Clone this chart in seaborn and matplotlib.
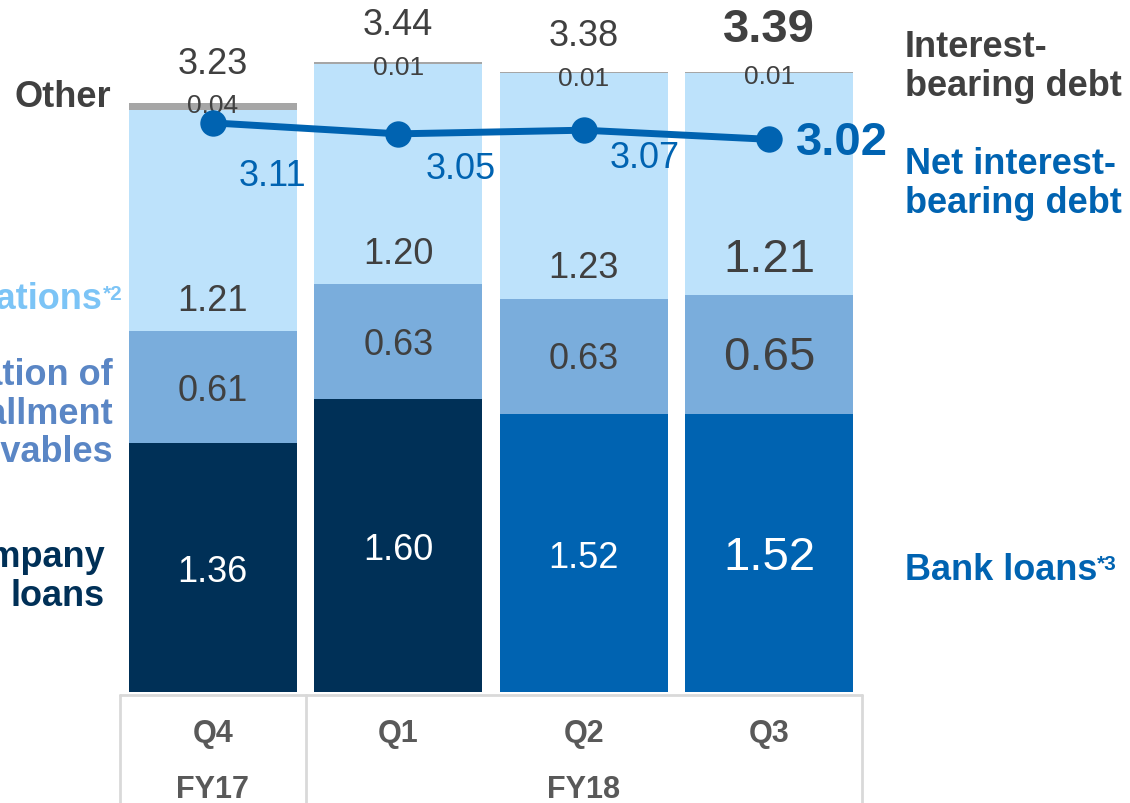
import numpy as np
import pandas as pd
import matplotlib
matplotlib.use("Agg")
import matplotlib.pyplot as plt
import matplotlib.transforms as mtransforms
import seaborn as sns

# ---------------- data ----------------
quarters = ["Q4", "Q1", "Q2", "Q3"]
fiscal_years = ["FY17", "FY18"]
group_loans = [1.36, 1.60, 0.00, 0.00]
bank_loans = [0.00, 0.00, 1.52, 1.52]
liquidation = [0.61, 0.63, 0.63, 0.65]
securitizations = [1.21, 1.20, 1.23, 1.21]
other = [0.04, 0.01, 0.01, 0.01]
totals = [3.23, 3.44, 3.38, 3.39]
net_debt = [3.11, 3.05, 3.07, 3.02]

# ---------------- style ----------------
sns.set_theme(style="white")
plt.rcParams["font.family"] = ["Liberation Sans", "DejaVu Sans"]

C_NAVY = "#003057"
C_BLUE = "#0063B1"
C_MID = "#7AADDC"
C_LIGHT = "#BDE2FB"
C_OTHER = "#A6A6A6"
C_TXT = "#404040"
C_GRID = "#D9D9D9"

W, H = 1130, 804
fig = plt.figure(figsize=(W / 100, H / 100), dpi=100)

# axes: x from px 120 to 862, y from px 693 (value 0) to px 0
ax = fig.add_axes([120 / W, (H - 693) / H, 742 / W, 693 / H])


def fx(x):
    return x / W


def fy(y):
    return 1 - y / H


df = pd.DataFrame({
    "quarter": quarters,
    "group": group_loans,
    "bank": bank_loans,
    "liq": liquidation,
    "sec": securitizations,
    "other": other,
})
base1 = np.array(group_loans) + np.array(bank_loans)
base2 = base1 + np.array(liquidation)
base3 = base2 + np.array(securitizations)

bw = 0.906
common = dict(x="quarter", errorbar=None, width=bw, ax=ax, linewidth=0, saturation=1)
sns.barplot(data=df, y="group", color=C_NAVY, **common)
sns.barplot(data=df, y="bank", color=C_BLUE, **common)
sns.barplot(data=df, y="liq", bottom=base1, color=C_MID, **common)
sns.barplot(data=df, y="sec", bottom=base2, color=C_LIGHT, **common)
sns.barplot(data=df, y="other", bottom=base3, color=C_OTHER, **common)

xpos = np.arange(len(quarters))
sns.lineplot(x=xpos, y=net_debt, color=C_BLUE, linewidth=5, marker="o",
             markersize=19, markeredgewidth=0, ax=ax, zorder=5)

ax.set_xlim(-0.5, 3.5)
ax.set_ylim(0, 693 / 183)
ax.set_axis_off()

# ---------------- value labels ----------------
big = [False, False, False, True]
for i in range(len(quarters)):
    fs = 34 if big[i] else 26
    # bottom segment
    ax.annotate(f"{base1[i]:.2f}", (xpos[i], base1[i] / 2), ha="center", va="center",
                fontsize=fs, color="white", xytext=(0, -3), textcoords="offset points")
    # liquidation
    ax.annotate(f"{liquidation[i]:.2f}", (xpos[i], base1[i] + liquidation[i] / 2),
                ha="center", va="center", fontsize=fs, color=C_TXT,
                xytext=(0, -2), textcoords="offset points")
    # securitizations (just above the liquidation block)
    ax.annotate(f"{securitizations[i]:.2f}", (xpos[i], base2[i]), ha="center",
                va="center", fontsize=fs, color=C_TXT,
                xytext=(0, 22 if not big[i] else 26), textcoords="offset points")
    # other
    ax.annotate(f"{other[i]:.2f}", (xpos[i], totals[i]), ha="center", va="center",
                fontsize=19, color=C_TXT, xytext=(0, -3), textcoords="offset points")
    # totals
    ax.annotate(f"{totals[i]:.2f}", (xpos[i], totals[i]), ha="center", va="center",
                fontsize=fs, color=C_TXT, fontweight="bold" if big[i] else "normal",
                xytext=(0, 27 if not big[i] else 31), textcoords="offset points")

net_offsets = [(43, -38), (45, -25), (44, -20)]
for i in range(3):
    ax.annotate(f"{net_debt[i]:.2f}", (xpos[i], net_debt[i]), ha="center", va="center",
                fontsize=26, color=C_BLUE, xytext=net_offsets[i],
                textcoords="offset points", zorder=6)
ax.annotate(f"{net_debt[3]:.2f}", (xpos[3], net_debt[3]), ha="left", va="center",
            fontsize=34, color=C_BLUE, fontweight="bold", xytext=(19, -2),
            textcoords="offset points", zorder=6)

# ---------------- bottom table ----------------
trans = mtransforms.blended_transform_factory(ax.transData, fig.transFigure)
fig.add_artist(plt.Line2D([-0.5, 3.5], [fy(696), fy(696)], transform=trans,
                          color=C_GRID, lw=2))
for xv in [-0.5, 0.5, 3.5]:
    fig.add_artist(plt.Line2D([xv, xv], [fy(696), 0], transform=trans,
                              color=C_GRID, lw=2))
for i, q in enumerate(quarters):
    fig.text(xpos[i], fy(734), q, transform=trans, ha="center", va="center",
             fontsize=22, fontweight="bold", color="#595959")
fig.text(0, fy(790), fiscal_years[0], transform=trans, ha="center", va="center",
         fontsize=22, fontweight="bold", color="#595959")
fig.text(2, fy(790), fiscal_years[1], transform=trans, ha="center", va="center",
         fontsize=22, fontweight="bold", color="#595959")

# ---------------- series labels ----------------
lab = dict(fontsize=26, fontweight="bold")
fig.text(fx(111), fy(98), "Other", ha="right", va="center", color=C_TXT, **lab)

t_sec = fig.text(fx(103), fy(300), "Securitizations", ha="right", va="center",
                 color="#7CC4F6", **lab)
ax.annotate("*2", xy=(1, 0.93), xycoords=t_sec, ha="left", va="top",
            fontsize=15, fontweight="bold", color="#7CC4F6", annotation_clip=False)

fig.text(fx(113), fy(414), "Liquidation of\ninstallment\nreceivables", ha="right",
         va="center", color="#5A86C5", linespacing=1.14, **lab)
fig.text(fx(105), fy(577), "Group company\nloans", ha="right", va="center",
         color=C_NAVY, linespacing=1.14, **lab)

fig.text(fx(905), fy(67), "Interest-\nbearing debt", ha="left", va="center",
         color=C_TXT, linespacing=1.12, **lab)
fig.text(fx(905), fy(184), "Net interest-\nbearing debt", ha="left", va="center",
         color=C_BLUE, linespacing=1.12, **lab)
t_bank = fig.text(fx(905), fy(570), "Bank loans", ha="left", va="center",
                  color=C_BLUE, **lab)
ax.annotate("*3", xy=(1, 0.93), xycoords=t_bank, ha="left", va="top",
            fontsize=15, fontweight="bold", color=C_BLUE, annotation_clip=False)

fig.savefig("out.png", dpi=100)
